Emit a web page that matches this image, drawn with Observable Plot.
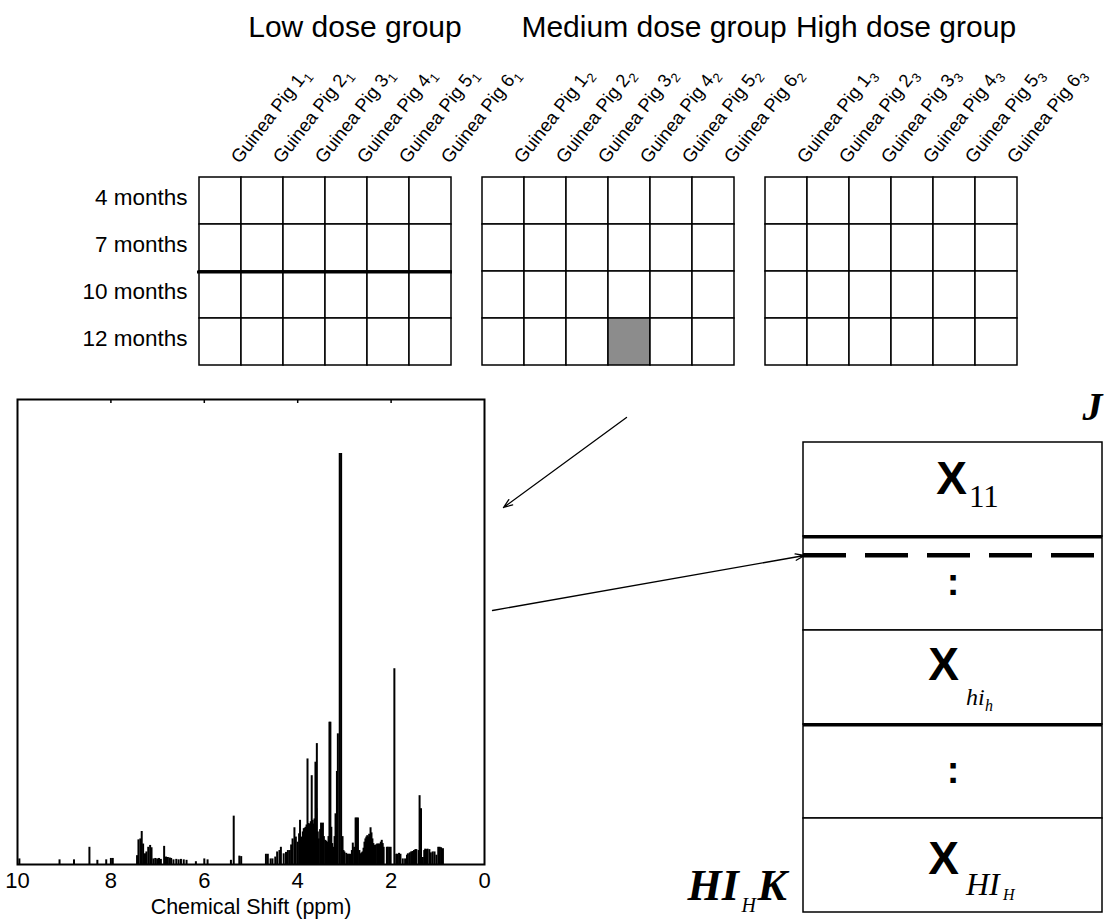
<!DOCTYPE html>
<html lang="en">
<head>
<meta charset="utf-8">
<script src="https://cdn.jsdelivr.net/npm/d3@7"></script>
<script src="https://cdn.jsdelivr.net/npm/@observablehq/plot@0.6"></script>
<style>
  body { margin: 0; background: #fff; }
  #page { position: relative; width: 1104px; height: 919px; overflow: hidden; background: #fff; }
  #page svg { position: absolute; left: 0; overflow: visible; max-width: none; }
</style>
</head>
<body>
<div id="page"></div>
<script>
// ---------------- data ----------------
const groups = ["Low dose group", "Medium dose group", "High dose group"];
const pigs = [1, 2, 3, 4, 5, 6];
const months = ["4 months", "7 months", "10 months", "12 months"];
const groupSubscripts = ["\u2081", "\u2082", "\u2083"];
const highlighted = [{group: "Medium dose group", pig: 4, month: "12 months"}];
const separators = [{group: "Low dose group", after: "7 months"}];

// NMR spectrum (chemical shift in ppm, relative intensity)
const ppm = [9.96, 9.10, 8.79, 8.46, 8.29, 8.10, 8.00, 7.96, 7.44, 7.41, 7.37, 7.34, 7.31, 7.27, 7.24, 7.20, 7.16, 7.13,
  7.09, 7.05, 7.01, 6.97, 6.93, 6.86, 6.82, 6.78, 6.74, 6.71, 6.66, 6.60, 6.55, 6.50, 6.44, 6.38, 6.18, 6.00, 5.93,
  5.43, 5.37, 5.25, 5.21, 4.68, 4.64, 4.58, 4.54, 4.48, 4.44, 4.39, 4.36, 4.30, 4.25, 4.21, 4.17, 4.14, 4.11, 4.07,
  4.04, 4.00, 3.97, 3.95, 3.91, 3.89, 3.87, 3.85, 3.83, 3.81, 3.79, 3.77, 3.74, 3.72, 3.70, 3.68, 3.66, 3.64, 3.62,
  3.60, 3.59, 3.57, 3.55, 3.52, 3.50, 3.48, 3.46, 3.44, 3.41, 3.39, 3.37, 3.34, 3.32, 3.30, 3.28, 3.26, 3.24, 3.21,
  3.19, 3.16, 3.14, 3.10, 3.07, 3.04, 3.02, 3.00, 2.96, 2.93, 2.90, 2.87, 2.84, 2.82, 2.79, 2.76, 2.74, 2.71, 2.68,
  2.66, 2.63, 2.61, 2.59, 2.57, 2.55, 2.53, 2.51, 2.49, 2.47, 2.44, 2.42, 2.40, 2.38, 2.36, 2.33, 2.30, 2.27, 2.25,
  2.22, 2.20, 2.18, 2.16, 2.09, 2.07, 2.04, 2.01, 1.93, 1.89, 1.87, 1.83, 1.80, 1.75, 1.70, 1.66, 1.64, 1.60, 1.57,
  1.54, 1.51, 1.48, 1.46, 1.41, 1.39, 1.36, 1.32, 1.29, 1.27, 1.25, 1.22, 1.18, 1.15, 1.11, 1.07, 1.03, 0.99, 0.96,
  0.93, 0.89];
const intensity = [0.012, 0.010, 0.010, 0.037, 0.009, 0.010, 0.013, 0.013, 0.019, 0.053, 0.055, 0.071, 0.044, 0.023, 0.027, 0.037, 0.041, 0.036,
  0.012, 0.013, 0.012, 0.013, 0.011, 0.039, 0.016, 0.015, 0.014, 0.013, 0.010, 0.011, 0.010, 0.011, 0.010, 0.009, 0.006, 0.012, 0.010,
  0.009, 0.104, 0.018, 0.017, 0.022, 0.022, 0.012, 0.012, 0.016, 0.027, 0.030, 0.037, 0.023, 0.026, 0.030, 0.030, 0.042, 0.055, 0.079,
  0.059, 0.048, 0.066, 0.095, 0.059, 0.070, 0.077, 0.078, 0.080, 0.085, 0.227, 0.088, 0.087, 0.092, 0.191, 0.095, 0.087, 0.098, 0.220,
  0.120, 0.260, 0.070, 0.055, 0.075, 0.089, 0.088, 0.089, 0.060, 0.052, 0.050, 0.048, 0.060, 0.306, 0.306, 0.080, 0.045, 0.037, 0.060,
  0.109, 0.200, 0.281, 0.884, 0.884, 0.060, 0.030, 0.027, 0.024, 0.022, 0.022, 0.022, 0.030, 0.046, 0.037, 0.100, 0.100, 0.100, 0.030,
  0.023, 0.025, 0.027, 0.035, 0.048, 0.055, 0.059, 0.062, 0.059, 0.065, 0.079, 0.068, 0.055, 0.045, 0.041, 0.042, 0.044, 0.044, 0.044,
  0.048, 0.052, 0.045, 0.037, 0.037, 0.037, 0.037, 0.037, 0.421, 0.022, 0.022, 0.024, 0.022, 0.012, 0.012, 0.020, 0.023, 0.025, 0.027,
  0.028, 0.030, 0.032, 0.032, 0.030, 0.148, 0.120, 0.015, 0.030, 0.033, 0.032, 0.033, 0.032, 0.025, 0.027, 0.027, 0.020, 0.037, 0.037,
  0.036, 0.034];
const ppmTicks = [10, 8, 6, 4, 2, 0];
const innerTicks = [8, 6, 4, 2];
const axisTitle = "Chemical Shift (ppm)";

// Unfolded data matrix blocks
const blockRows = ["r1", "r2", "r3", "r4", "r5"];
const thickAfter = ["r1", "r3"];
const dashedRows = ["r2"];
const dotRows = ["r2", "r4"];
const blockLabels = [
  {row: "r1", main: "X", sub: "11"},
  {row: "r3", main: "X", sub: "hi", sub2: "h"},
  {row: "r5", main: "X", sub: "HI", sub2: "H"}
];

// ---------------- layout / style ----------------
const SANS = '"Liberation Sans", Arial, Helvetica, sans-serif';
const SERIF = '"Liberation Serif", "Times New Roman", Times, serif';
const GRID = {top: 0, width: 1104, height: 372, mt: 175, mb: 6, ml: 197, mr: 86};
const SPEC = {top: 380, width: 500, height: 539, mt: 19, mb: 55, ml: 17, mr: 16};
const BLOCK = {top: 380, width: 1104, height: 539, mt: 60, mb: 6, ml: 803, mr: 2};
const rowH = (GRID.height - GRID.mt - GRID.mb) / months.length;
const blockBw = (BLOCK.height - BLOCK.mt - BLOCK.mb) / blockRows.length;
const specFrameH = SPEC.height - SPEC.mt - SPEC.mb;
const dashOffset = 19;
const titleDx = [30, 46, 15];
const baseStyle = {fontFamily: SANS, fontSize: "22px", color: "black", background: "transparent", overflow: "visible"};

const page = document.getElementById("page");
function place(svg, top) { svg.style.top = top + "px"; page.appendChild(svg); return svg; }
const byRow = r => blockLabels.filter(d => d.row === r);

// ---------------- top grids ----------------
const cells = groups.flatMap(g => months.flatMap(m => pigs.map(p => ({
  group: g, month: m, pig: p,
  on: highlighted.some(h => h.group === g && h.pig === p && h.month === m)
}))));
const colLabels = groups.flatMap((g, gi) => pigs.map(p => ({group: g, pig: p, text: `Guinea Pig ${p}${groupSubscripts[gi]}`})));

const grid = Plot.plot({
  width: GRID.width, height: GRID.height,
  marginTop: GRID.mt, marginBottom: GRID.mb, marginLeft: GRID.ml, marginRight: GRID.mr,
  fx: {domain: groups, paddingInner: 0.1, paddingOuter: 0, axis: null, label: null},
  x: {domain: pigs, padding: 0, axis: null},
  y: {domain: months, padding: 0, axis: null},
  style: baseStyle,
  marks: [
    Plot.cell(cells, {fx: "group", x: "pig", y: "month", fill: d => d.on ? "#8c8c8c" : "white", stroke: "black", strokeWidth: 1.5, inset: 0}),
    Plot.ruleY(separators, {fx: "group", y: "after", dy: rowH / 2, stroke: "black", strokeWidth: 3}),
    Plot.text(colLabels, {fx: "group", x: "pig", text: "text", frameAnchor: "top", rotate: -52, textAnchor: "start", dx: 9, dy: -19, fontSize: 18.5, fill: "black"}),
    Plot.text(months, {fx: () => groups[0], y: d => d, text: d => d, frameAnchor: "left", textAnchor: "end", dx: -10, dy: -3, fontSize: 22.5, fill: "black"}),
    ...groups.map((g, i) => Plot.text([g], {fx: d => d, text: d => d, frameAnchor: "top", dy: -160, dx: titleDx[i], fontSize: 30, fill: "black"}))
  ]
});
place(grid, GRID.top);

// render the group subscript of each pig label as a lowered, smaller digit
const subMap = new Map(groupSubscripts.map((s, i) => [s, String(i + 1)]));
d3.select(grid).selectAll("text").each(function () {
  const s = this.textContent;
  if (!s.startsWith("Guinea Pig")) return;
  const last = s.slice(-1);
  if (!subMap.has(last)) return;
  this.textContent = s.slice(0, -1);
  d3.select(this).append("tspan").attr("dy", 5).attr("font-size", 13).text(subMap.get(last));
});

// ---------------- spectrum ----------------
const peaks = ppm.map((p, i) => ({ppm: p, h: intensity[i]}));
const spec = Plot.plot({
  width: SPEC.width, height: SPEC.height,
  marginTop: SPEC.mt, marginBottom: SPEC.mb, marginLeft: SPEC.ml, marginRight: SPEC.mr,
  x: {domain: [10, 0], ticks: ppmTicks, tickSize: 0, tickPadding: 8, label: null},
  y: {domain: [0, 1], axis: null},
  style: baseStyle,
  marks: [
    Plot.ruleX(peaks, {x: "ppm", y1: 0, y2: "h", stroke: "black", strokeWidth: 2}),
    Plot.frame({stroke: "black", strokeWidth: 2}),
    Plot.ruleX(innerTicks, {x: d => d, insetBottom: specFrameH - 4, stroke: "black", strokeWidth: 1.5}),
    Plot.text([axisTitle], {text: d => d, frameAnchor: "bottom", lineAnchor: "top", dy: 34, fontSize: 21.5, fill: "black"})
  ]
});
place(spec, SPEC.top);

// ---------------- unfolded matrix ----------------
const serifText = {fontFamily: SERIF, fill: "black", textAnchor: "start"};
const block = Plot.plot({
  width: BLOCK.width, height: BLOCK.height,
  marginTop: BLOCK.mt, marginBottom: BLOCK.mb, marginLeft: BLOCK.ml, marginRight: BLOCK.mr,
  x: {domain: [0, 1], axis: null},
  y: {domain: blockRows, padding: 0, axis: null},
  style: baseStyle,
  marks: [
    Plot.barX(blockRows, {y: d => d, x1: 0, x2: 1, fill: "white", stroke: "black", strokeWidth: 1.5, inset: 0}),
    Plot.ruleY(thickAfter, {y: d => d, dy: blockBw / 2, stroke: "black", strokeWidth: 3.5}),
    Plot.ruleY(dashedRows, {y: d => d, dy: dashOffset - blockBw / 2, stroke: "black", strokeWidth: 4.5, strokeDasharray: "43,19"}),
    Plot.text(dotRows, {y: d => d, x: () => 0.5, text: () => ":", dy: -1, fontSize: 38, fontWeight: "bold", fontFamily: SANS, fill: "black"}),
    // X_11
    Plot.text(byRow("r1"), {y: "row", x: () => 0.5, text: "main", textAnchor: "end", dx: 14, dy: -10, fontSize: 46, fontWeight: "bold", fontFamily: SANS, fill: "black"}),
    Plot.text(byRow("r1"), {...serifText, y: "row", x: () => 0.5, text: "sub", dx: 16, dy: 8, fontSize: 31}),
    // X_hi_h
    Plot.text(byRow("r3"), {y: "row", x: () => 0.5, text: "main", textAnchor: "end", dx: 6, dy: -12, fontSize: 46, fontWeight: "bold", fontFamily: SANS, fill: "black"}),
    Plot.text(byRow("r3"), {...serifText, y: "row", x: () => 0.5, text: "sub", dx: 13, dy: 20, fontSize: 24, fontStyle: "italic"}),
    Plot.text(byRow("r3"), {...serifText, y: "row", x: () => 0.5, text: "sub2", dx: 32, dy: 28, fontSize: 16, fontStyle: "italic"}),
    // X_HI_H
    Plot.text(byRow("r5"), {y: "row", x: () => 0.5, text: "main", textAnchor: "end", dx: 6, dy: -6, fontSize: 46, fontWeight: "bold", fontFamily: SANS, fill: "black"}),
    Plot.text(byRow("r5"), {...serifText, y: "row", x: () => 0.5, text: "sub", dx: 13, dy: 19, fontSize: 32, fontStyle: "italic"}),
    Plot.text(byRow("r5"), {...serifText, y: "row", x: () => 0.5, text: "sub2", dx: 50, dy: 29, fontSize: 16, fontStyle: "italic"}),
    // dimension labels
    Plot.text(["J"], {text: d => d, frameAnchor: "top-right", textAnchor: "end", dy: -49, fontSize: 40, fontWeight: "bold", fontStyle: "italic", fontFamily: SERIF, fill: "black"}),
    Plot.text(["HI"], {...serifText, text: d => d, frameAnchor: "bottom-left", dx: -116, dy: -14, fontSize: 44, fontWeight: "bold", fontStyle: "italic"}),
    Plot.text(["H"], {...serifText, text: d => d, frameAnchor: "bottom-left", dx: -62, dy: -2, fontSize: 20, fontStyle: "italic"}),
    Plot.text(["K"], {...serifText, text: d => d, frameAnchor: "bottom-left", dx: -46, dy: -14, fontSize: 44, fontWeight: "bold", fontStyle: "italic"})
  ]
});
place(block, BLOCK.top);

// ---------------- connecting arrows (derived from the plots' scales) ----------------
const gfx = grid.scale("fx"), gx = grid.scale("x");
const h0 = highlighted[0];
const cellCx = gfx.apply(h0.group) + (gx.apply(h0.pig) - gx.range[0]) + gx.bandwidth / 2;
const gridBottom = GRID.top + GRID.height - GRID.mb;
const specRight = spec.scale("x").apply(0);
const specTop = SPEC.top + spec.scale("y").apply(1);
const blockLeft = block.scale("x").apply(0);
const dashY = BLOCK.top + block.scale("y").apply(dashedRows[0]) + dashOffset;
const links = [
  {x1: cellCx - 3, y1: gridBottom + 51, x2: specRight + 19, y2: specTop + 108},
  {x1: specRight + 8, y1: specTop + 211, x2: blockLeft + 1, y2: dashY}
];
const overlay = Plot.plot({
  width: 1104, height: 919, margin: 0,
  x: {domain: [0, 1104], range: [0, 1104], axis: null},
  y: {domain: [0, 919], range: [0, 919], axis: null},
  style: baseStyle,
  marks: [
    Plot.arrow(links, {x1: "x1", y1: "y1", x2: "x2", y2: "y2", stroke: "black", strokeWidth: 1.3, headLength: 11, headAngle: 40})
  ]
});
place(overlay, 0);
</script>
</body>
</html>
